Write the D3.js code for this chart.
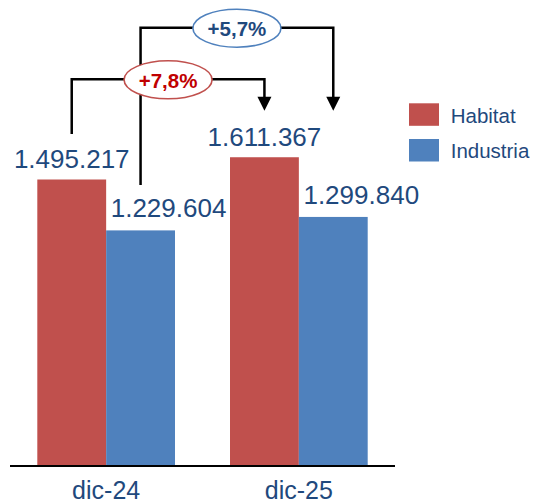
<!DOCTYPE html>
<html>
<head>
<meta charset="utf-8">
<script src="https://cdn.jsdelivr.net/npm/d3@7"></script>
<style>
  html, body { margin: 0; padding: 0; background: #fff; }
  svg { display: block; font-family: "Liberation Sans", Arial, sans-serif; }
</style>
</head>
<body>
<svg id="chart" width="545" height="504"></svg>
<script>
// ---- data ----
const categories = ["dic-24", "dic-25"];
const seriesNames = ["Habitat", "Industria"];
const habitatValues = [1495217, 1611367];
const industriaValues = [1229604, 1299840];
const valueLabels = {
  Habitat: ["1.495.217", "1.611.367"],
  Industria: ["1.229.604", "1.299.840"]
};
const changeLabels = ["+7,8%", "+5,7%"]; // Habitat change, Industria change

// ---- styles ----
const colors = { Habitat: "#C0504D", Industria: "#4F81BD" };
const textColor = "#1F497D";
const changeTextColors = ["#C00000", "#1F497D"];
const ellipseStroke = ["#C0504D", "#4F81BD"];

const svg = d3.select("#chart");

const baseY = 466;
const y = d3.scaleLinear().domain([0, 2432000]).range([baseY, 0]);
const x0 = d3.scaleBand().domain(categories).range([10, 395])
  .paddingInner(0.2855).paddingOuter(0.1417);
const x1 = d3.scaleBand().domain(seriesNames).range([0, x0.bandwidth()]).padding(0);

const rows = categories.map((c, i) => ({
  cat: c,
  values: [
    { key: "Habitat", value: habitatValues[i], label: valueLabels.Habitat[i] },
    { key: "Industria", value: industriaValues[i], label: valueLabels.Industria[i] }
  ]
}));

// bars
const groups = svg.append("g").selectAll("g").data(rows).join("g")
  .attr("transform", d => `translate(${x0(d.cat)},0)`);
groups.selectAll("rect").data(d => d.values).join("rect")
  .attr("x", d => x1(d.key))
  .attr("y", d => y(d.value))
  .attr("width", x1.bandwidth())
  .attr("height", d => baseY - y(d.value))
  .attr("fill", d => colors[d.key]);

// value labels
groups.selectAll("text").data(d => d.values).join("text")
  .attr("x", d => x1(d.key) + x1.bandwidth() / 2 + (d.key === "Industria" ? 28 : 0))
  .attr("y", d => y(d.value) - (d.key === "Industria" ? 13 : 11.5))
  .attr("text-anchor", "middle")
  .attr("font-size", 26)
  .attr("fill", textColor)
  .text(d => d.label);

// x axis
const xAxis = d3.axisBottom(x0).tickSize(0).tickPadding(15);
const ax = svg.append("g").attr("transform", `translate(0,${baseY})`).call(xAxis);
ax.select(".domain").attr("stroke", "#000").attr("stroke-width", 2)
  .attr("d", "M10,0H395");
ax.selectAll("text").attr("font-size", 25).attr("fill", textColor)
  .attr("font-family", "Liberation Sans, Arial, sans-serif")
  .attr("dy", "0.71em");

// brackets
const cx = (cat, key) => x0(cat) + x1(key) + x1.bandwidth() / 2;
const tipY = y(d3.max(rows[1].values, d => d.value)) - 46.5;
const bracketLevels = [79.3, 27.7];
const brackets = seriesNames.map((key, i) => {
  const vals = key === "Habitat" ? habitatValues : industriaValues;
  return {
    key,
    xa: cx(categories[0], key),
    ya: y(vals[0]) - 45.5,
    xb: cx(categories[1], key),
    level: bracketLevels[i],
    label: changeLabels[i],
    i
  };
});

const bl = svg.append("g");
brackets.forEach(b => {
  bl.append("path")
    .attr("d", `M${b.xa},${b.ya}V${b.level}H${b.xb}V${tipY - 13}`)
    .attr("fill", "none").attr("stroke", "#000").attr("stroke-width", 2.5)
    .attr("stroke-linejoin", "miter");
  bl.append("path")
    .attr("d", `M${b.xb - 7},${tipY - 14}L${b.xb + 7},${tipY - 14}L${b.xb},${tipY}Z`)
    .attr("fill", "#000");
});
brackets.forEach(b => {
  const mx = (b.xa + b.xb) / 2;
  bl.append("ellipse")
    .attr("cx", mx).attr("cy", b.level + 0.5)
    .attr("rx", 44).attr("ry", 19)
    .attr("fill", "#fff")
    .attr("stroke", ellipseStroke[b.i]).attr("stroke-width", 1.6);
  bl.append("text")
    .attr("x", mx).attr("y", b.level + 8.3)
    .attr("text-anchor", "middle")
    .attr("font-size", 20.5).attr("font-weight", "bold")
    .attr("fill", changeTextColors[b.i])
    .text(b.label);
});

// legend
const legend = svg.append("g").attr("transform", "translate(409,103.3)");
const li = legend.selectAll("g").data(seriesNames).join("g")
  .attr("transform", (d, i) => `translate(0,${i * 35.7})`);
li.append("rect").attr("width", 30).attr("height", 22.5).attr("fill", d => colors[d]);
li.append("text").attr("x", 41.7).attr("y", 19.4)
  .attr("font-size", 20.5).attr("fill", textColor).text(d => d);
</script>
</body>
</html>
